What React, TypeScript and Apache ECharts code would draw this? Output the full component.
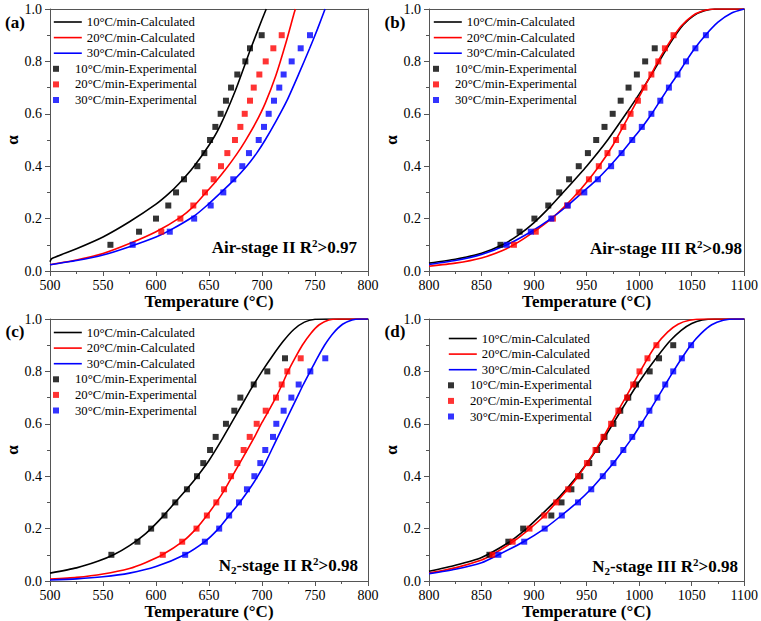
import React, { useEffect, useRef } from 'react';
import * as echarts from 'echarts';

const FONT = 'Times New Roman';
const AX = '#555';
const COLORS = ['#000000', '#ff0000', '#0000ff'];
const CALC_NAMES = ['10°C/min-Calculated', '20°C/min-Calculated', '30°C/min-Calculated'];
const EXP_NAMES = ['10°C/min-Experimental', '20°C/min-Experimental', '30°C/min-Experimental'];

// conversion levels of experimental points
const ALPHA_10_90 = [0.1, 0.15, 0.2, 0.25, 0.3, 0.35, 0.4, 0.45, 0.5, 0.55, 0.6, 0.65, 0.7, 0.75, 0.8, 0.85, 0.9];
const ALPHA_10_85 = [0.1, 0.15, 0.2, 0.25, 0.3, 0.35, 0.4, 0.45, 0.5, 0.55, 0.6, 0.65, 0.7, 0.75, 0.8, 0.85];
const ALPHA_15_90 = [0.15, 0.2, 0.25, 0.3, 0.35, 0.4, 0.45, 0.5, 0.55, 0.6, 0.65, 0.7, 0.75, 0.8, 0.85, 0.9];

// ---------- (a) Air-stage II ----------
const A_CALC10_T = [500, 501.5, 525, 550, 575, 600, 612, 622, 635, 650, 660, 675, 689.5, 700, 704];
const A_CALC10_A = [0.035, 0.047, 0.085, 0.13, 0.188, 0.255, 0.295, 0.335, 0.395, 0.48, 0.55, 0.69, 0.85, 0.96, 1.0];
const A_CALC20_T = [500, 525, 550, 575, 600, 623, 635, 645, 656, 667, 676, 684, 694, 703, 713, 722.5, 730, 731.5];
const A_CALC20_A = [0.024, 0.042, 0.067, 0.105, 0.15, 0.205, 0.245, 0.29, 0.34, 0.395, 0.445, 0.495, 0.565, 0.64, 0.745, 0.87, 0.98, 1.0];
const A_CALC30_T = [500, 525, 550, 575, 600, 613, 636, 648, 660, 673, 685.5, 695, 703, 713, 723.5, 735, 745, 752.5, 759.5];
const A_CALC30_A = [0.024, 0.04, 0.061, 0.093, 0.13, 0.155, 0.21, 0.25, 0.295, 0.345, 0.4, 0.45, 0.5, 0.57, 0.65, 0.755, 0.85, 0.925, 1.0];
const A_EXP10_T = [557, 584, 600, 611.6, 618.9, 626.4, 639, 645.6, 651, 656, 661, 666, 670.8, 676.7, 684.3, 688.7, 699.7];
const A_EXP20_T = [605, 623, 635.2, 646.2, 654.4, 661.3, 667.3, 674.5, 679.6, 683.7, 688.7, 692.2, 697.5, 703.5, 710.7, 718.6];
const A_EXP30_T = [578, 613, 636, 651.6, 663.5, 672.9, 681.4, 687.7, 696.9, 701.9, 706.3, 711.3, 716.3, 720.4, 728, 736.5, 745.3];

// ---------- (b) Air-stage III ----------
const B_CALC10_T = [800, 825, 850, 870, 886, 900, 914, 930, 950, 970, 990, 1000, 1011, 1022, 1032, 1042, 1052, 1062, 1072, 1100];
const B_CALC10_A = [0.03, 0.045, 0.068, 0.1, 0.14, 0.185, 0.24, 0.31, 0.4, 0.5, 0.615, 0.675, 0.745, 0.82, 0.885, 0.94, 0.975, 0.993, 1.0, 1.0];
const B_CALC20_T = [800, 825, 850, 870, 885, 900, 915, 930, 945, 960, 975, 990, 1000, 1010, 1020, 1030, 1040, 1050, 1060, 1072, 1100];
const B_CALC20_A = [0.018, 0.03, 0.05, 0.078, 0.11, 0.15, 0.195, 0.25, 0.315, 0.39, 0.48, 0.59, 0.665, 0.74, 0.815, 0.88, 0.935, 0.972, 0.992, 1.0, 1.0];
const B_CALC30_T = [800, 825, 850, 874, 897, 916, 932, 946, 960, 972, 983, 993, 1003, 1012, 1020, 1028, 1036.5, 1044.5, 1053, 1063, 1075, 1088, 1100];
const B_CALC30_A = [0.025, 0.04, 0.063, 0.1, 0.15, 0.2, 0.25, 0.3, 0.35, 0.4, 0.45, 0.5, 0.55, 0.6, 0.65, 0.7, 0.75, 0.8, 0.85, 0.9, 0.95, 0.985, 1.0];
const B_EXP10_T = [868, 886.2, 900.3, 913.5, 923.9, 933.3, 942.5, 951.2, 959.1, 967, 974.8, 982.4, 989.9, 997.8, 1005.7, 1014.8];
const B_EXP20_T = [880.8, 901.6, 917.9, 931.4, 942.5, 952.2, 961.6, 969.8, 978, 984.9, 991.8, 998.8, 1005, 1011.6, 1018.2, 1024.5, 1032.7];
const B_EXP30_T = [873.9, 896.9, 916.4, 932.1, 947.8, 960.7, 973.3, 983.3, 993.4, 1002.5, 1011.6, 1020.1, 1028.3, 1036.5, 1044.6, 1053.5, 1063.5];

// ---------- (c) N2-stage II ----------
const C_CALC10_T = [500, 525, 545, 560, 575, 590, 605, 618, 630, 640, 650, 660, 670, 680, 690, 700, 710, 720, 730, 740, 750, 760, 800];
const C_CALC10_A = [0.03, 0.05, 0.075, 0.1, 0.135, 0.18, 0.24, 0.3, 0.355, 0.405, 0.46, 0.525, 0.595, 0.665, 0.735, 0.8, 0.86, 0.915, 0.96, 0.988, 0.999, 1.0, 1.0];
const C_CALC20_T = [500, 525, 550, 575, 590, 606, 625, 638, 648, 657, 665, 672, 679, 686, 693, 700, 707, 713, 719, 724.5, 731, 738, 746, 754, 763, 772, 800];
const C_CALC20_A = [0.007, 0.014, 0.027, 0.048, 0.07, 0.1, 0.15, 0.2, 0.25, 0.3, 0.35, 0.4, 0.45, 0.5, 0.55, 0.605, 0.655, 0.7, 0.75, 0.8, 0.85, 0.9, 0.945, 0.978, 0.996, 1.0, 1.0];
const C_CALC30_T = [500, 525, 550, 575, 600, 627, 646, 659, 669, 679, 688, 696, 703, 709, 715, 721, 727, 733, 739, 745.5, 752, 759, 767, 776, 785, 792, 800];
const C_CALC30_A = [0.004, 0.008, 0.016, 0.03, 0.055, 0.1, 0.15, 0.2, 0.25, 0.3, 0.35, 0.4, 0.45, 0.5, 0.55, 0.6, 0.65, 0.7, 0.75, 0.8, 0.85, 0.9, 0.945, 0.98, 0.996, 1.0, 1.0];
const C_EXP10_T = [557.9, 582.5, 595.4, 608, 618.2, 629.2, 638.7, 644.6, 651, 656.3, 666, 673.9, 679.6, 692.2, 705, 721.7];
const C_EXP20_T = [606.4, 624.7, 638.2, 648, 656.9, 664.2, 670.8, 676.7, 682.7, 688.4, 695, 703.5, 713.2, 718.6, 723.9, 736.5];
const C_EXP30_T = [627.5, 646.1, 659.6, 669, 678.3, 685.8, 692.8, 698.4, 703.1, 710.4, 713.5, 720.4, 727.7, 734.6, 745.6, 759.7];

// ---------- (d) N2-stage III ----------
const D_CALC10_T = [800, 825, 850, 875, 890, 910, 925, 940, 955, 965, 975, 985, 995, 1006, 1017, 1029, 1040, 1050, 1060, 1072, 1100];
const D_CALC10_A = [0.037, 0.06, 0.09, 0.145, 0.19, 0.265, 0.325, 0.395, 0.475, 0.535, 0.6, 0.665, 0.73, 0.795, 0.855, 0.915, 0.957, 0.983, 0.996, 1.0, 1.0];
const D_CALC20_T = [800, 825, 850, 860, 880, 896, 910, 921, 932, 942, 950.5, 958.5, 966, 973, 980, 987, 994, 1001, 1008, 1016, 1027, 1037, 1048, 1062, 1100];
const D_CALC20_A = [0.03, 0.05, 0.08, 0.1, 0.15, 0.2, 0.25, 0.3, 0.35, 0.4, 0.45, 0.5, 0.55, 0.6, 0.65, 0.7, 0.75, 0.8, 0.85, 0.9, 0.95, 0.98, 0.995, 1.0, 1.0];
const D_CALC30_T = [800, 825, 850, 866, 890, 910, 926, 941, 954, 965, 975.5, 985, 994, 1002, 1010, 1017.5, 1025, 1032.5, 1040.5, 1049, 1059, 1069, 1080, 1092, 1100];
const D_CALC30_A = [0.028, 0.045, 0.07, 0.1, 0.15, 0.2, 0.25, 0.3, 0.35, 0.4, 0.45, 0.5, 0.55, 0.6, 0.65, 0.7, 0.75, 0.8, 0.85, 0.9, 0.945, 0.978, 0.995, 1.0, 1.0];
const D_EXP10_T = [857.5, 875.5, 889.6, 916.4, 926.1, 935.5, 944, 952.5, 960, 967, 975.5, 982, 989.6, 997, 1010, 1018.9, 1032.4];
const D_EXP20_T = [860.4, 879.6, 895.6, 909.7, 921, 932.4, 941.8, 950.3, 958.5, 966, 973.3, 980.2, 988.4, 994.3, 1000.3, 1007.9, 1016.4];
const D_EXP30_T = [866, 890.6, 910.1, 926.4, 941.8, 954.4, 965.4, 975.5, 984.9, 993.4, 1001.9, 1009.7, 1017.3, 1024.8, 1032.4, 1040.6, 1049.4];

const X_RANGES = [[500, 800], [800, 1100], [500, 800], [800, 1100]];

const zip = (xs: number[], ys: number[]) => xs.map((x, i) => [x, ys[i]]);

const PANELS = [
  {
    calc: [zip(A_CALC10_T, A_CALC10_A), zip(A_CALC20_T, A_CALC20_A), zip(A_CALC30_T, A_CALC30_A)],
    exp: [zip(A_EXP10_T, ALPHA_10_90), zip(A_EXP20_T, ALPHA_15_90), zip(A_EXP30_T, ALPHA_10_90)],
  },
  {
    calc: [zip(B_CALC10_T, B_CALC10_A), zip(B_CALC20_T, B_CALC20_A), zip(B_CALC30_T, B_CALC30_A)],
    exp: [zip(B_EXP10_T, ALPHA_10_85), zip(B_EXP20_T, ALPHA_10_90), zip(B_EXP30_T, ALPHA_10_90)],
  },
  {
    calc: [zip(C_CALC10_T, C_CALC10_A), zip(C_CALC20_T, C_CALC20_A), zip(C_CALC30_T, C_CALC30_A)],
    exp: [zip(C_EXP10_T, ALPHA_10_85), zip(C_EXP20_T, ALPHA_10_85), zip(C_EXP30_T, ALPHA_10_85)],
  },
  {
    calc: [zip(D_CALC10_T, D_CALC10_A), zip(D_CALC20_T, D_CALC20_A), zip(D_CALC30_T, D_CALC30_A)],
    exp: [zip(D_EXP10_T, ALPHA_10_90), zip(D_EXP20_T, ALPHA_10_90), zip(D_EXP30_T, ALPHA_10_90)],
  },
];

const GRID_POS = [
  { left: 50, top: 9 },
  { left: 429, top: 9 },
  { left: 50, top: 319 },
  { left: 429, top: 319 },
];
const GRID_W = 318;
const GRID_H = 262;

const LEGEND_POS = [
  { left: 53, top: 15 },
  { left: 433, top: 15 },
  { left: 53, top: 325.5 },
  { left: 448, top: 331.5 },
];
const ROW = 15.6;
const LEGEND_FONT = 12.7;

const PANEL_LABELS = [
  { text: '(a)', x: 15, y: 22 },
  { text: '(b)', x: 395, y: 22 },
  { text: '(c)', x: 15, y: 331 },
  { text: '(d)', x: 395, y: 331 },
];

const ANNOTATIONS = [
  { rich: '{b|Air-stage II R}{sup|2}{b|>0.97}', x: 357, y: 247 },
  { rich: '{b|Air-stage III R}{sup|2}{b|>0.98}', x: 742, y: 248 },
  { rich: '{b|N}{sub|2}{b|-stage II R}{sup|2}{b|>0.98}', x: 358, y: 565 },
  { rich: '{b|N}{sub|2}{b|-stage III R}{sup|2}{b|>0.98}', x: 738, y: 566 },
];

function buildOption() {
  const grid: any[] = [];
  const xAxis: any[] = [];
  const yAxis: any[] = [];
  const legend: any[] = [];
  const series: any[] = [];
  const graphic: any[] = [];

  PANELS.forEach((p, i) => {
    const [xmin, xmax] = X_RANGES[i];
    grid.push({ left: GRID_POS[i].left, top: GRID_POS[i].top, width: GRID_W, height: GRID_H, containLabel: false });
    xAxis.push({
      type: 'value', gridIndex: i, min: xmin, max: xmax, interval: 50, position: 'bottom',
      axisLine: { show: true, onZero: false, lineStyle: { color: AX, width: 1 } },
      axisTick: { show: true, inside: false, length: 5, lineStyle: { color: AX } },
      minorTick: { show: true, splitNumber: 2, length: 3, lineStyle: { color: AX } },
      splitLine: { show: false },
      axisLabel: { fontFamily: FONT, fontSize: 14, color: '#000', margin: 7, formatter: (v: number) => String(v) },
      name: 'Temperature (°C)', nameLocation: 'middle', nameGap: 18,
      nameTextStyle: { fontFamily: FONT, fontSize: 17, fontWeight: 'bold', color: '#000' },
    });
    xAxis.push({
      type: 'value', gridIndex: i, min: xmin, max: xmax, interval: 50, position: 'top',
      axisLine: { show: true, onZero: false, lineStyle: { color: AX, width: 1 } },
      axisTick: { show: false }, axisLabel: { show: false }, splitLine: { show: false },
    });
    yAxis.push({
      type: 'value', gridIndex: i, min: 0, max: 1, interval: 0.2, position: 'left',
      axisLine: { show: true, onZero: false, lineStyle: { color: AX, width: 1 } },
      axisTick: { show: true, inside: false, length: 5, lineStyle: { color: AX } },
      minorTick: { show: true, splitNumber: 2, length: 3, lineStyle: { color: AX } },
      splitLine: { show: false },
      axisLabel: { fontFamily: FONT, fontSize: 14, color: '#000', margin: 8, formatter: (v: number) => v.toFixed(1) },
      name: 'α', nameLocation: 'middle', nameGap: 29, nameRotate: 90,
      nameTextStyle: { fontFamily: FONT, fontSize: 17, fontWeight: 'bold', color: '#000' },
    });
    yAxis.push({
      type: 'value', gridIndex: i, min: 0, max: 1, interval: 0.2, position: 'right',
      axisLine: { show: true, onZero: false, lineStyle: { color: AX, width: 1 } },
      axisTick: { show: false }, axisLabel: { show: false }, splitLine: { show: false },
    });

    const lp = LEGEND_POS[i];
    legend.push({
      orient: 'vertical', left: lp.left, top: lp.top, padding: 0, itemWidth: 28, itemHeight: 14,
      itemGap: ROW - 14, selectedMode: false, data: CALC_NAMES,
      textStyle: { fontFamily: FONT, fontSize: LEGEND_FONT, color: '#000', lineHeight: 14 },
      itemStyle: { color: 'transparent', opacity: 0, borderWidth: 0 },
      lineStyle: { width: 1.6 },
    });
    legend.push({
      orient: 'vertical', left: lp.left, top: lp.top + 3 * ROW, padding: 0, itemWidth: 28, itemHeight: 6,
      itemGap: ROW - 14, selectedMode: false, data: EXP_NAMES,
      textStyle: { fontFamily: FONT, fontSize: LEGEND_FONT, color: '#000', lineHeight: 14 },
      icon: 'path://M0,0L10,0L10,10L0,10Z', symbolKeepAspect: true,
    });

    p.calc.forEach((d, k) => {
      series.push({
        type: 'line', name: CALC_NAMES[k], xAxisIndex: 2 * i, yAxisIndex: 2 * i, data: d,
        symbol: 'none', showSymbol: false, smooth: 0.2, silent: true,
        lineStyle: { color: COLORS[k], width: 1.6 }, itemStyle: { color: COLORS[k] }, z: 2,
      });
    });
    p.exp.forEach((d, k) => {
      series.push({
        type: 'scatter', name: EXP_NAMES[k], xAxisIndex: 2 * i, yAxisIndex: 2 * i, data: d,
        symbol: 'rect', symbolSize: 6, silent: true, itemStyle: { color: COLORS[k] }, z: 3,
      });
    });

    const pl = PANEL_LABELS[i];
    graphic.push({
      type: 'text', x: pl.x, y: pl.y, silent: true,
      style: { text: pl.text, fontFamily: FONT, fontSize: 17, fontWeight: 'bold', fill: '#000', align: 'center', verticalAlign: 'middle' },
    });
    const an = ANNOTATIONS[i];
    graphic.push({
      type: 'text', x: an.x, y: an.y, silent: true,
      style: {
        text: an.rich, fill: '#000', align: 'right', verticalAlign: 'middle',
        rich: {
          b: { fontFamily: FONT, fontSize: 17, fontWeight: 'bold', fill: '#000', lineHeight: 20 },
          sup: { fontFamily: FONT, fontSize: 11, fontWeight: 'bold', fill: '#000', lineHeight: 11, verticalAlign: 'top' },
          sub: { fontFamily: FONT, fontSize: 11, fontWeight: 'bold', fill: '#000', lineHeight: 11, verticalAlign: 'bottom' },
        },
      },
    });
  });

  return {
    animation: false, backgroundColor: '#fff',
    textStyle: { fontFamily: FONT },
    grid, xAxis, yAxis, legend, series, graphic,
  };
}

export default function App() {
  const ref = useRef<HTMLDivElement>(null);
  useEffect(() => {
    if (!ref.current) return;
    const chart = echarts.init(ref.current, undefined, { renderer: 'svg' });
    chart.setOption(buildOption() as any);
    return () => chart.dispose();
  }, []);
  return <div ref={ref} style={{ position: 'absolute', left: 0, top: 0, width: 761, height: 621 }} />;
}
